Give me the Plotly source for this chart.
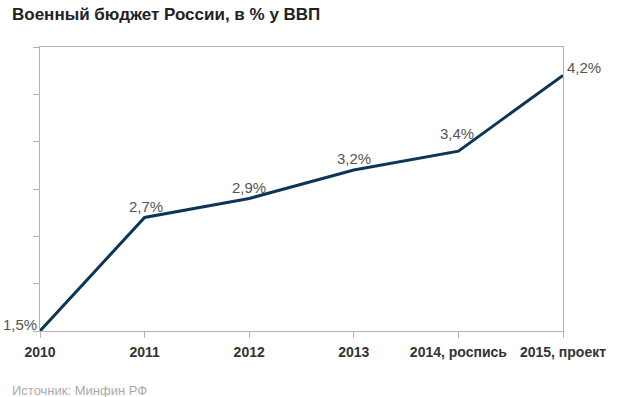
import plotly.graph_objects as go

categories = ["2010", "2011", "2012", "2013", "2014, роспись", "2015, проект"]
values = [1.5, 2.7, 2.9, 3.2, 3.4, 4.2]
labels = ["1,5%", "2,7%", "2,9%", "3,2%", "3,4%", "4,2%"]

xs = list(range(len(categories)))

# label placement (style): anchor, x shift, y shift in pixels
label_xanchor = ["right", "center", "center", "center", "center", "left"]
label_xshift = [-1, 1, 0, 0, -1, 2]
label_yshift = [7, 11, 11, 11.5, 18, 7.5]

FONT = "Liberation Sans, Arial, sans-serif"

fig = go.Figure()
fig.add_trace(go.Scatter(
    x=xs, y=values, mode="lines",
    line=dict(color="#0c3658", width=3),
    cliponaxis=False, hoverinfo="skip", showlegend=False,
))

annotations = []
for xv, yv, lab, xa, dx, dy in zip(xs, values, labels, label_xanchor, label_xshift, label_yshift):
    annotations.append(dict(
        x=xv, y=yv, xref="x", yref="y", text=lab, showarrow=False,
        xanchor=xa, yanchor="middle", xshift=dx, yshift=dy,
        font=dict(family=FONT, size=15, color="#555555"),
    ))

annotations += [
    dict(text="<b>Военный бюджет России, в % у ВВП</b>", xref="paper", yref="paper",
         x=-30/523, y=1 + 32/284, xanchor="left", yanchor="middle", showarrow=False,
         font=dict(family=FONT, size=17, color="#222222")),
    dict(text="Источник: Минфин РФ", xref="paper", yref="paper",
         x=-30/523, y=-59/284, xanchor="left", yanchor="middle", showarrow=False,
         font=dict(family=FONT, size=13, color="#aaaaaa")),
]

axis_col = "#b3b3b3"
fig.update_layout(
    width=626, height=397,
    margin=dict(l=40, r=63, t=47, b=66),
    paper_bgcolor="white", plot_bgcolor="white",
    xaxis=dict(
        range=[0, 5], tickvals=xs, ticktext=[f"<b>{c}</b>" for c in categories],
        showgrid=False, zeroline=False, showline=True, linecolor=axis_col, linewidth=1,
        mirror=True, ticks="outside", ticklen=6, tickcolor=axis_col,
        ticklabelstandoff=2,
        tickfont=dict(family=FONT, size=14, color="#333333"),
    ),
    yaxis=dict(
        range=[1.5, 4.5], tickvals=[1.5, 2.0, 2.5, 3.0, 3.5, 4.0, 4.5],
        showticklabels=False, showgrid=False, zeroline=False,
        showline=True, linecolor=axis_col, linewidth=1, mirror=True,
        ticks="outside", ticklen=6, tickcolor=axis_col,
    ),
    annotations=annotations,
)

fig.write_html("out.html", config={"displayModeBar": False},
               post_script="document.body.style.margin='0px';")
